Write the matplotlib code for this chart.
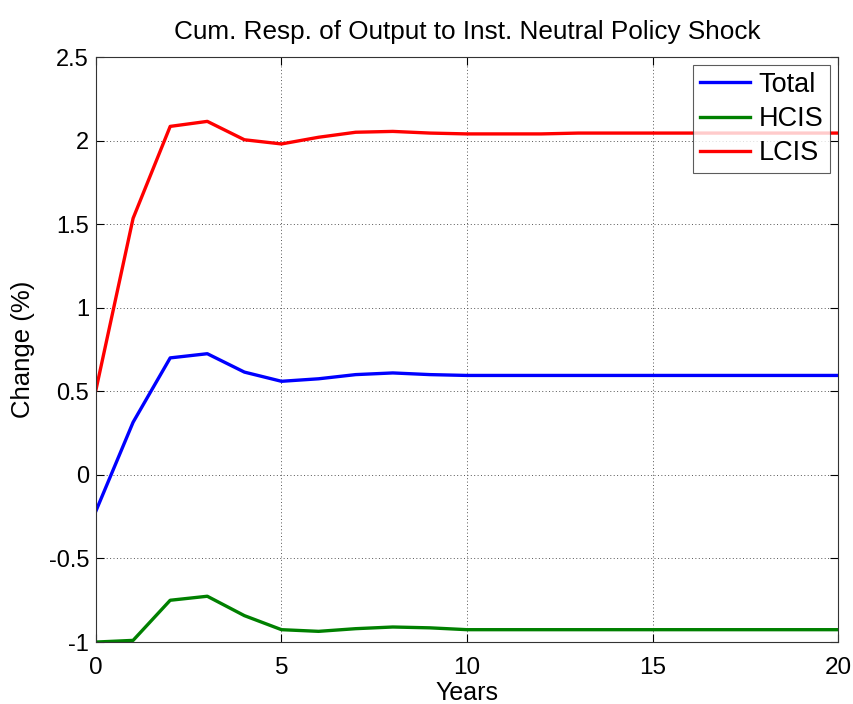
import matplotlib
matplotlib.use("Agg")
import matplotlib.pyplot as plt

years = list(range(0, 21))
total = [-0.215, 0.315, 0.70, 0.725, 0.615, 0.56, 0.575, 0.60, 0.61, 0.60, 0.595,
         0.595, 0.595, 0.595, 0.595, 0.595, 0.595, 0.595, 0.595, 0.595, 0.595]
hcis = [-1.0, -0.99, -0.75, -0.726, -0.842, -0.926, -0.936, -0.92, -0.91, -0.915, -0.926,
        -0.926, -0.926, -0.926, -0.926, -0.926, -0.926, -0.926, -0.926, -0.926, -0.926]
lcis = [0.51, 1.535, 2.085, 2.115, 2.005, 1.98, 2.02, 2.05, 2.055, 2.045, 2.04,
        2.04, 2.04, 2.045, 2.045, 2.045, 2.045, 2.045, 2.045, 2.045, 2.045]
xticks = [0, 5, 10, 15, 20]
yticks = [-1, -0.5, 0, 0.5, 1, 1.5, 2, 2.5]
ytick_labels = ["-1", "-0.5", "0", "0.5", "1", "1.5", "2", "2.5"]

plt.rcParams['font.family'] = ['Liberation Sans', 'DejaVu Sans']

fig = plt.figure(figsize=(8.54, 7.04), dpi=100)
ax = fig.add_axes([0.1124, 0.088, 0.8689, 0.831])

ax.plot(years, total, color=(0, 0, 1), lw=2.4, label="Total")
ax.plot(years, hcis, color=(0, 0.5, 0), lw=2.4, label="HCIS")
ax.plot(years, lcis, color=(1, 0, 0), lw=2.4, label="LCIS")

ax.set_xlim(0, 20)
ax.set_ylim(-1, 2.5)
ax.set_xticks(xticks)
ax.set_xticklabels([str(t) for t in xticks])
ax.set_yticks(yticks)
ax.set_yticklabels(ytick_labels)
ax.grid(True, linestyle=(0, (1, 2.5)), color='#555555', linewidth=0.7)
ax.tick_params(direction='in', top=True, right=True, length=6, width=0.8)
ax.tick_params(axis='y', labelsize=17, pad=5)
ax.tick_params(axis='x', labelsize=17.5, pad=11)
for s in ax.spines.values():
    s.set_linewidth(0.8)
    s.set_color('#333333')

ax.set_title("Cum. Resp. of Output to Inst. Neutral Policy Shock", fontsize=18.8, pad=13)
ax.set_xlabel("Years", fontsize=18, labelpad=1)
ax.set_ylabel("Change (%)", fontsize=18.5, labelpad=10)

leg = ax.legend(loc='upper right', fontsize=19.5, frameon=True, fancybox=False,
                edgecolor='#333333', borderpad=0.25, labelspacing=0.3,
                handlelength=1.85, handletextpad=0.3, borderaxespad=0.3)
leg.get_frame().set_linewidth(0.8)

fig.savefig("out.png", dpi=100)
